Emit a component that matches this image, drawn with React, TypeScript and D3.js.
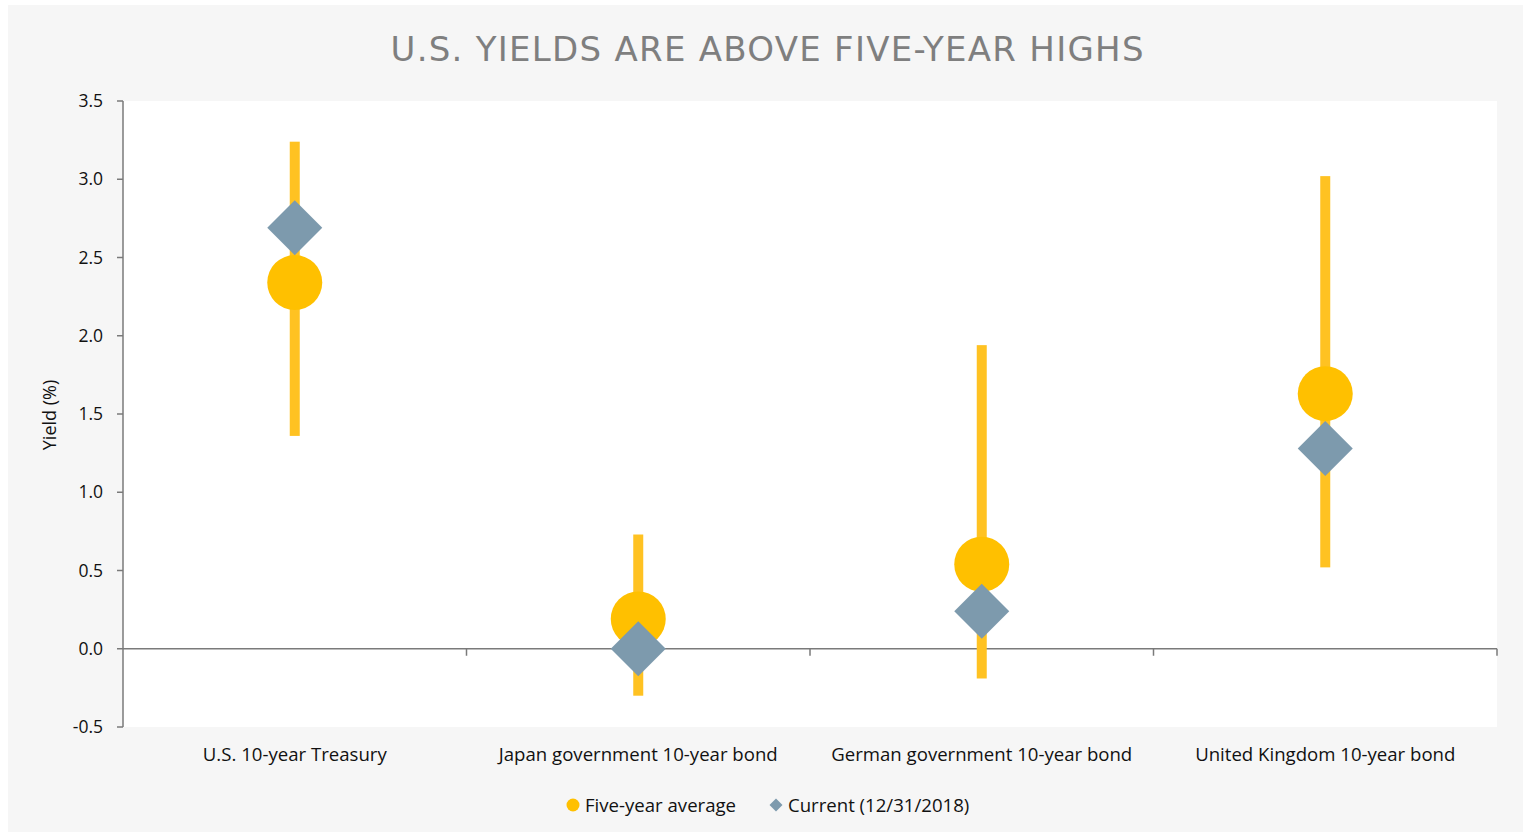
import React from "react";
import * as d3 from "d3";

const categories = [
  "U.S. 10-year Treasury",
  "Japan government 10-year bond",
  "German government 10-year bond",
  "United Kingdom 10-year bond",
];
const rangeLow = [1.36, -0.3, -0.19, 0.52];
const rangeHigh = [3.24, 0.73, 1.94, 3.02];
const fiveYearAvg = [2.34, 0.19, 0.54, 1.63];
const current = [2.69, 0.0, 0.24, 1.28];
const yTicks = [-0.5, 0, 0.5, 1, 1.5, 2, 2.5, 3, 3.5];
const seriesNames = ["Five-year average", "Current (12/31/2018)"];
const title = "U.S. YIELDS ARE ABOVE FIVE-YEAR HIGHS";

const W = 1523;
const H = 837;
const left = 123;
const right = 1497;
const top = 101;
const bottom = 727;
const font = "'Open Sans', sans-serif";
const fs = 18.6;

export default function App() {
  const x = d3.scaleBand<string>().domain(categories).range([left, right]).padding(0);
  const y = d3.scaleLinear().domain([-0.5, 3.5]).range([bottom, top]);
  const bw = x.bandwidth();
  const r = 27.5;
  const axisColor = "#7a7a7a";
  const y0 = y(0);
  const fmt = (t: number) => d3.format(".1f")(t).replace("\u2212", "-");

  return (
    <svg
      width={W}
      height={H}
      style={{ position: "absolute", left: 0, top: 0 }}
    >
      <rect x={0} y={0} width={W} height={H} fill="#ffffff" />
      <rect x={8} y={5} width={W - 8} height={H - 10} fill="#f6f6f6" />
      <rect x={left} y={top} width={right - left} height={bottom - top} fill="#ffffff" />

      <text
        x={767}
        y={61}
        textAnchor="middle"
        fontFamily="'DejaVu Sans', sans-serif"
        fontSize={34}
        textLength={753}
        lengthAdjust="spacing"
        fill="#7f7f7f"
      >
        {title}
      </text>

      {/* y axis */}
      <line x1={left} x2={left} y1={top} y2={bottom} stroke={axisColor} strokeWidth={1.5} />
      {yTicks.map((t) => (
        <g key={t}>
          <line x1={left - 6} x2={left} y1={y(t)} y2={y(t)} stroke={axisColor} strokeWidth={1.5} />
          <text
            x={103}
            y={y(t)}
            dy="0.35em"
            textAnchor="end"
            fontFamily={font}
            fontSize={17.5}
            fill="#111"
          >
            {fmt(t)}
          </text>
        </g>
      ))}
      <text
        transform={`translate(56,${(top + bottom) / 2 + 1}) rotate(-90)`}
        textAnchor="middle"
        fontFamily={font}
        fontSize={18}
        fill="#111"
      >
        Yield (%)
      </text>

      {/* x axis at zero */}
      <line x1={left} x2={right} y1={y0} y2={y0} stroke={axisColor} strokeWidth={1.5} />
      {categories.map((c) => (
        <line
          key={"t" + c}
          x1={(x(c) as number) + bw}
          x2={(x(c) as number) + bw}
          y1={y0}
          y2={y0 + 7}
          stroke={axisColor}
          strokeWidth={1.5}
        />
      ))}
      {categories.map((c) => (
        <text
          key={"l" + c}
          x={(x(c) as number) + bw / 2}
          y={761}
          textAnchor="middle"
          fontFamily={font}
          fontSize={fs}
          fill="#111"
        >
          {c}
        </text>
      ))}

      {/* ranges */}
      {categories.map((c, i) => (
        <rect
          key={"r" + c}
          x={(x(c) as number) + bw / 2 - 5}
          y={y(rangeHigh[i])}
          width={10}
          height={y(rangeLow[i]) - y(rangeHigh[i])}
          fill="#FFC222"
        />
      ))}
      {/* averages */}
      {categories.map((c, i) => (
        <circle
          key={"a" + c}
          cx={(x(c) as number) + bw / 2}
          cy={y(fiveYearAvg[i])}
          r={r}
          fill="#FFC000"
        />
      ))}
      {/* current */}
      {categories.map((c, i) => {
        const cx = (x(c) as number) + bw / 2;
        const cy = y(current[i]);
        return (
          <path
            key={"d" + c}
            d={`M${cx},${cy - r}L${cx + r},${cy}L${cx},${cy + r}L${cx - r},${cy}Z`}
            fill="#7D9AAD"
          />
        );
      })}

      {/* legend */}
      <circle cx={573} cy={805} r={6.5} fill="#FFC000" />
      <text x={585} y={805} dy="0.35em" fontFamily={font} fontSize={fs} fill="#111">
        {seriesNames[0]}
      </text>
      <path d="M776,798.5L782.5,805L776,811.5L769.5,805Z" fill="#7D9AAD" />
      <text x={788} y={805} dy="0.35em" fontFamily={font} fontSize={fs} fill="#111">
        {seriesNames[1]}
      </text>
    </svg>
  );
}
